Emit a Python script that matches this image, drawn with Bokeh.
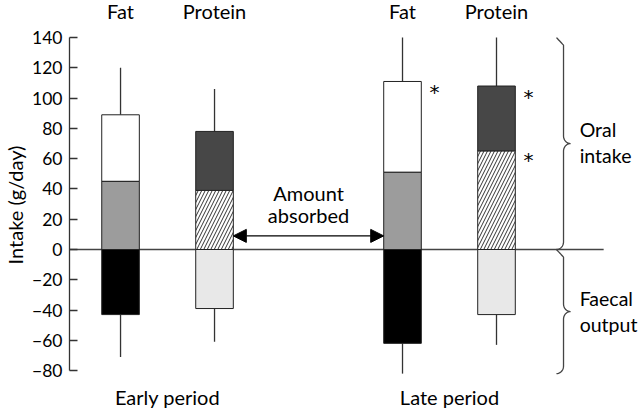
import numpy as np
from bokeh.plotting import figure
from bokeh.models import Range1d, FixedTicker, Arrow, NormalHead
from bokeh.core.properties import value
from bokeh.embed import file_html
from bokeh.resources import INLINE

# ---- data (g/day) ----
periods = ["Early period", "Late period"]
nutrients = ["Fat", "Protein"]
fat_intake = [89, 111]
fat_absorbed = [45, 51]
fat_faecal = [-43, -62]
fat_intake_err = [120, 140]
fat_faecal_err = [-71, -82]
prot_intake = [78, 108]
prot_absorbed = [39, 65]
prot_faecal = [-39, -43]
prot_intake_err = [106, 140]
prot_faecal_err = [-61, -63]
y_ticks = [-80, -60, -40, -20, 0, 20, 40, 60, 80, 100, 120, 140]

FONT = "Lato"
period_pos = [1.5, 4.5]
fat_x = [c - 0.5 for c in period_pos]
prot_x = [c + 0.5 for c in period_pos]
W = 0.4

p = figure(width=640, height=409, x_range=Range1d(0.457, 6.532), y_range=Range1d(-105.7, 164.5),
           output_backend="svg", toolbar_location=None, x_axis_location=None,
           min_border_left=69, min_border_right=0, min_border_top=0, min_border_bottom=0)
p.grid.visible = False
p.outline_line_color = None

ax = p.yaxis[0]
ax.ticker = FixedTicker(ticks=y_ticks)
ax.bounds = (-80, 140)
ax.major_tick_in = 8
ax.major_tick_out = 0
ax.minor_tick_line_color = None
ax.major_label_standoff = 7
ax.major_label_text_font = FONT
ax.major_label_text_font_size = "17.5px"
ax.major_label_text_color = "black"
ax.major_label_overrides = {t: ("\u2212" + str(-t) if t < 0 else str(t)) for t in y_ticks}
ax.axis_line_color = "#333333"
ax.axis_line_width = 1.3
ax.major_tick_line_color = "#333333"
ax.major_tick_line_width = 1.3
ax.axis_label = "Intake (g/day)"
ax.axis_label_text_font = FONT
ax.axis_label_text_font_style = "normal"
ax.axis_label_text_font_size = "20px"
ax.axis_label_text_color = "black"
ax.axis_label_standoff = 2

# zero line
p.line([0.457, 6.14], [0, 0], line_color="#444444", line_width=1.3)

# error bars
p.segment(x0=fat_x, y0=fat_intake, x1=fat_x, y1=fat_intake_err, line_color="#333333", line_width=1.3)
p.segment(x0=fat_x, y0=fat_faecal, x1=fat_x, y1=fat_faecal_err, line_color="#333333", line_width=1.3)
p.segment(x0=prot_x, y0=prot_intake, x1=prot_x, y1=prot_intake_err, line_color="#333333", line_width=1.3)
p.segment(x0=prot_x, y0=prot_faecal, x1=prot_x, y1=prot_faecal_err, line_color="#333333", line_width=1.3)

lc = "#222222"
# fat bars
p.vbar(x=fat_x, bottom=fat_absorbed, top=fat_intake, width=W, fill_color="white", line_color=lc)
p.vbar(x=fat_x, bottom=0, top=fat_absorbed, width=W, fill_color="#9c9c9c", line_color=lc)
p.vbar(x=fat_x, bottom=fat_faecal, top=0, width=W, fill_color="black", line_color=lc)
# protein bars
p.vbar(x=prot_x, bottom=prot_absorbed, top=prot_intake, width=W, fill_color="#474747", line_color=lc)
p.vbar(x=prot_x, bottom=0, top=prot_absorbed, width=W, fill_color="white", line_color=lc,
       hatch_pattern="/", hatch_color="#333333", hatch_scale=7, hatch_weight=1)
p.vbar(x=prot_x, bottom=prot_faecal, top=0, width=W, fill_color="#e8e8e8", line_color=lc)

# asterisks (significant differences in late period)
ast_x = [fat_x[1] + 0.34, prot_x[1] + 0.34, prot_x[1] + 0.34]
ast_y = [fat_intake[1] - 7, prot_intake[1] - 7, prot_absorbed[1] - 6]
p.text(x=ast_x, y=ast_y, text=["*"] * 3, text_font=value("DejaVu Sans"), text_font_size="20px",
       text_align="center", text_baseline="middle", text_color="black")

# header labels
hx = fat_x + prot_x
ht = ["Fat"] * 2 + ["Protein"] * 2
p.text(x=hx, y=[157.5] * 4, text=ht, text_font=value(FONT), text_font_size="20px",
       text_align="center", text_baseline="middle", text_color="black")
p.text(x=period_pos, y=[-97.5] * 2, text=periods, text_font=value(FONT), text_font_size="20px",
       text_align="center", text_baseline="middle", text_color="black")

# amount absorbed arrow
arr_y = 9
p.add_layout(Arrow(x_start=prot_x[0] + W / 2, y_start=arr_y, x_end=fat_x[1] - W / 2, y_end=arr_y,
                   start=NormalHead(size=13, fill_color="black", line_color="black"),
                   end=NormalHead(size=13, fill_color="black", line_color="black"),
                   line_color="black", line_width=1.3))
mid = (prot_x[0] + fat_x[1]) / 2
p.text(x=[mid, mid], y=[37.5, 22.5], text=["Amount", "absorbed"], text_font=value(FONT),
       text_font_size="20px", text_align="center", text_baseline="middle", text_color="black")

# braces
def brace(xb, top, bottom, rx=0.075, ry=5.0):
    midy = (top + bottom) / 2
    t = np.linspace(0, np.pi / 2, 12)
    xs = list(xb - rx * np.cos(t)); ys = list(top - ry + ry * np.cos(t))
    xs += list(xb + rx * (1 - np.cos(t))); ys += list(midy + ry - ry * np.sin(t))
    xs += list(xb + rx * (1 - np.sin(t))); ys += list(midy - ry + ry * np.cos(t))
    xs += list(xb - rx * (1 - np.cos(t))); ys += list(bottom + ry - ry * np.sin(t))
    return xs, ys

bx = 5.713
for top, bot in [(140, 0), (0, -82)]:
    xs, ys = brace(bx, top, bot)
    p.line(xs, ys, line_color="#444444", line_width=1.3)

tx = 5.885
p.text(x=[tx, tx], y=[79, 62], text=["Oral", "intake"], text_font=value(FONT), text_font_size="19.5px",
       text_align="left", text_baseline="middle", text_color="black")
p.text(x=[tx, tx], y=[-32.5, -49.5], text=["Faecal", "output"], text_font=value(FONT), text_font_size="19.5px",
       text_align="left", text_baseline="middle", text_color="black")

open("out.html", "w").write(file_html(p, INLINE))
